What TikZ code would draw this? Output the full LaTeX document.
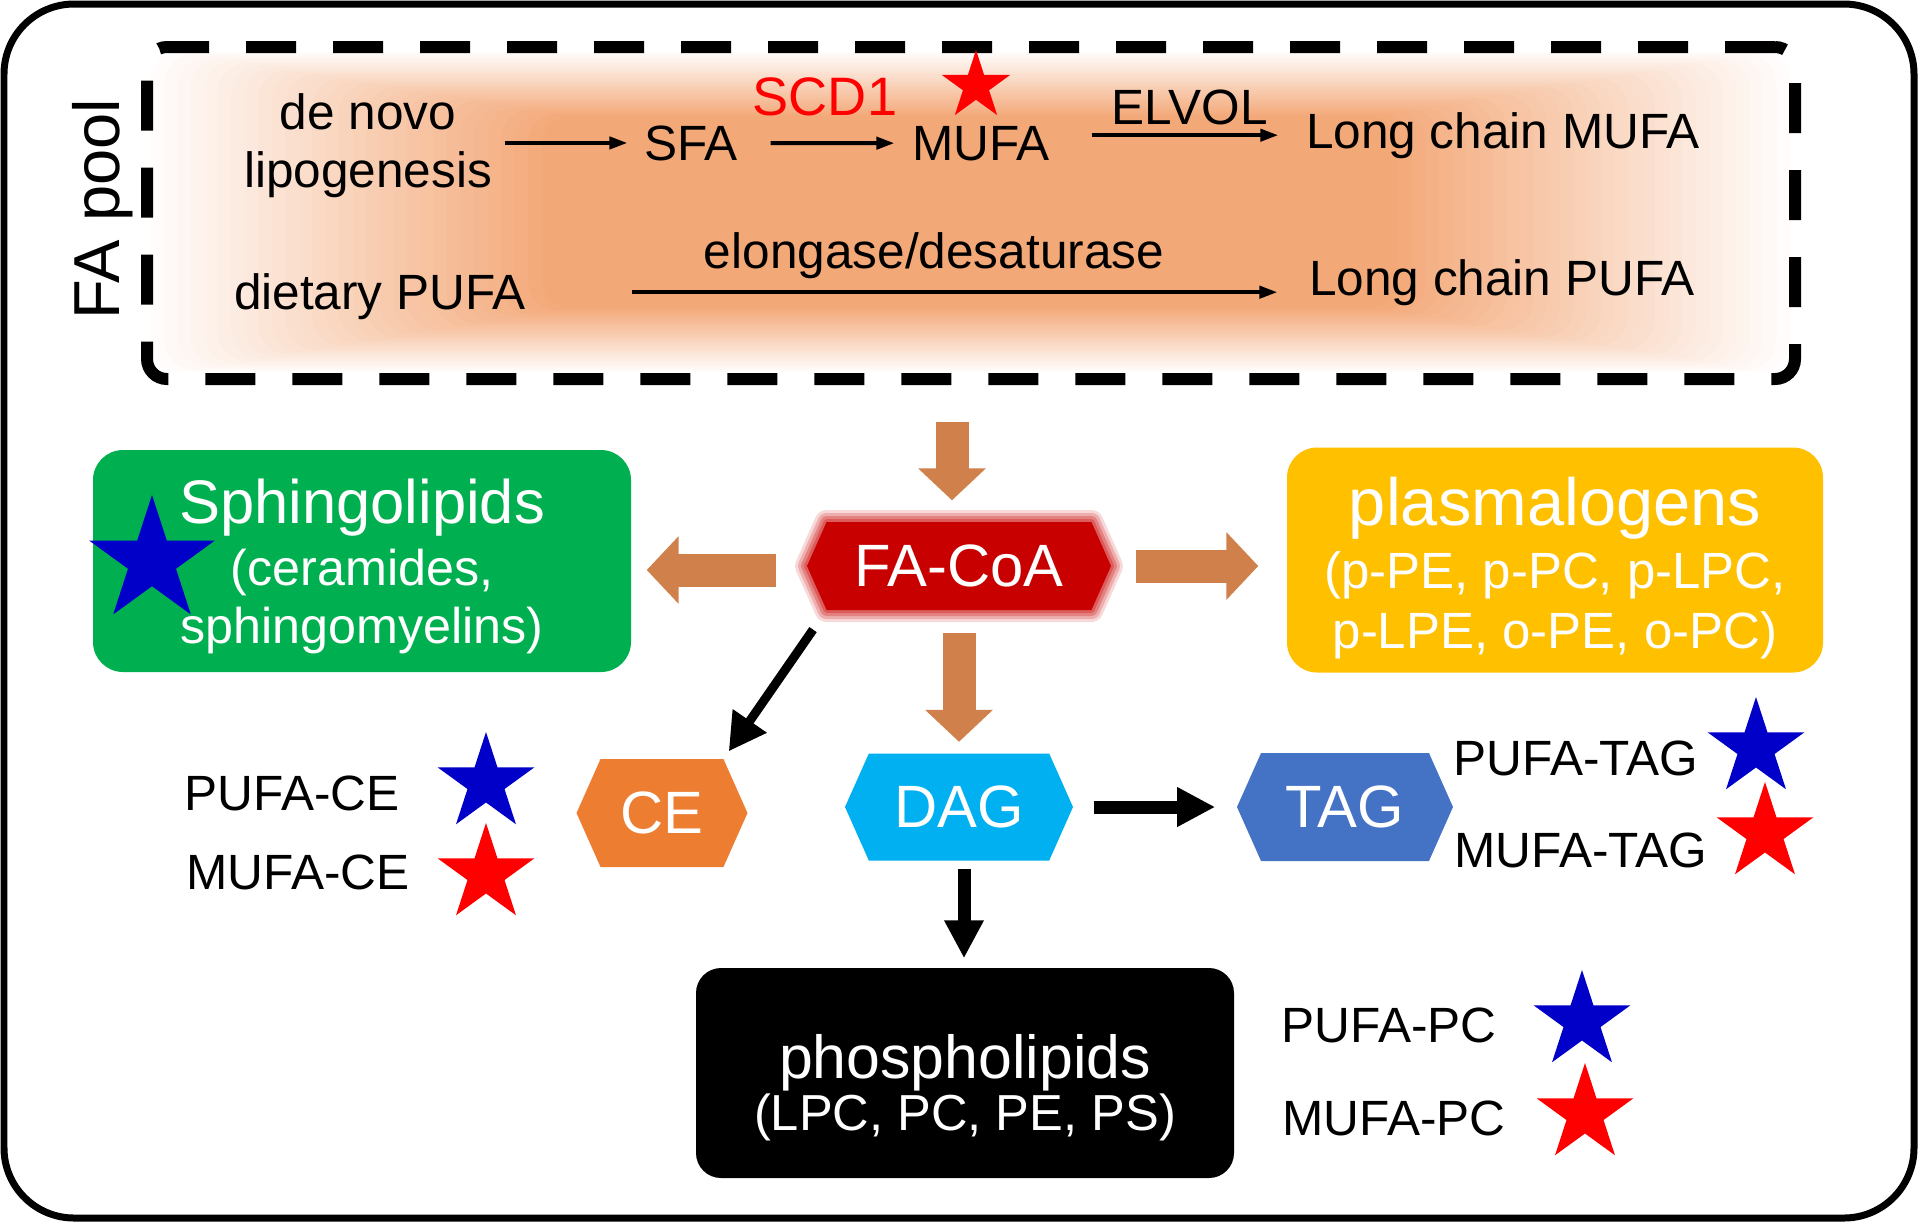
\documentclass[tikz,border=0pt]{standalone}
\usepackage{fontspec}
\setmainfont{Liberation Sans}
\usepackage{tikz}
\usetikzlibrary{shapes.symbols,shapes.geometric,arrows.meta,calc}
\definecolor{poolorange}{RGB}{243,168,120}
\definecolor{arroworange}{RGB}{208,128,74}
\definecolor{sphgreen}{RGB}{0,176,80}
\definecolor{plasgold}{RGB}{255,192,0}
\definecolor{facoared}{RGB}{200,0,0}
\definecolor{ceorange}{RGB}{237,125,49}
\definecolor{dagcyan}{RGB}{0,176,240}
\definecolor{tagblue}{RGB}{68,114,196}
\definecolor{starblue}{RGB}{0,0,200}
\definecolor{starred}{RGB}{255,0,0}

\begin{document}
\begin{tikzpicture}
[   x=0.1mm, y=-0.1mm,
    txt/.style={inner sep=0pt, font=\fontsize{14.1pt}{16.5pt}\selectfont},
    hexnode/.style={signal, signal to=east and west, signal pointer angle=132,
        fill=#1, inner sep=0pt, text=white, font=\fontsize{17pt}{20pt}\selectfont},
    soft edge/.style={preaction={draw=#1, draw opacity=.15, line width=2.4mm, line join=round},
        preaction={draw=#1, draw opacity=.2, line width=1.8mm, line join=round},
        preaction={draw=#1, draw opacity=.25, line width=1.2mm, line join=round},
        preaction={draw=#1, draw opacity=.3, line width=0.6mm, line join=round}},
    boxnode/.style={rectangle, rounded corners=3mm, fill=#1, inner sep=0pt, text=white, align=center},
    starnode/.style={star, star points=5, star point ratio=2.618, fill=#1, inner sep=0pt, minimum size=10.2mm},
]
\tikzset{thin arrow/.style={draw, line width=0.4mm, -{Triangle[length=1.8mm,width=1.2mm]}},
    fat arrow/.style={draw=arroworange, line width=3.3mm, -{Triangle[length=3.2mm,width=6.6mm]}},
    black arrow/.style={draw, line width=1.3mm, -{Triangle[length=3.8mm,width=3.7mm]}}}
\useasboundingbox (0,0) rectangle (1920,1222);
\draw[line width=0.7mm, rounded corners=7mm] (4,4) rectangle (1914,1218);

% FA pool: soft orange background, then the dashed frame
\foreach \k in {0,...,29}
{
	\pgfmathsetmacro\op{1/(30-\k)}
	\fill[poolorange, fill opacity=\op, rounded corners=3mm] (150+13.5*\k,52+2.2*\k) rectangle (1790-13.5*\k,372-2.2*\k);
}
\node[draw, line width=1.2mm, dash pattern=on 5mm off 3.7mm, rounded corners=2mm, inner sep=0pt,
      minimum width=164.8mm, minimum height=33.2mm] (pool) at (971,213) {};
\node[txt, font=\fontsize{18.5pt}{20pt}\selectfont, rotate=90, anchor=base] (fapool) at (119,209) {FA pool};

\node[txt, align=center] (denovo) at (368,146) {de novo\\lipogenesis};
\node[txt, anchor=base] (sfa) at (691,160) {SFA};
\node[txt, anchor=base] (mufa) at (981,160) {MUFA};
\node[txt, anchor=base] (lcmufa) at (1503,148) {Long chain MUFA};
\node[txt, anchor=base] (dietary) at (380,309) {dietary PUFA};
\node[txt, anchor=base] (lcpufa) at (1502,295) {Long chain PUFA};
\node[starnode=starred, minimum size=7.2mm] (scdstar) at (976,86) {};

\path[thin arrow, shorten <=1.2mm, shorten >=1.6mm] (denovo.east |- sfa.west) -- (sfa.west);
\path[thin arrow, shorten <=3.2mm, shorten >=1.7mm] (sfa.east) -- node[txt, above=2.5mm, text=starred, font=\fontsize{15.4pt}{18pt}\selectfont] (scd) {SCD1} (mufa.west);
\path[thin arrow, shorten <=4.1mm, shorten >=2.7mm] (mufa.east |- lcmufa.west) -- node[txt, above=0.8mm, pos=.546] (elvol) {ELVOL} (lcmufa.west);
\path[thin arrow, shorten <=10.5mm, shorten >=3.1mm] ([yshift=0.4mm]dietary.east) -- node[txt, above=1.1mm, pos=.521] (elong) {elongase/desaturase} ([yshift=0.4mm]dietary.east -| lcpufa.west);

% lipid classes
\node[hexnode=facoared, soft edge=facoared, minimum width=30.4mm, minimum height=8.8mm] (facoa) at (959,566) {FA-CoA};
\node[boxnode=sphgreen, minimum width=53.8mm, minimum height=22.2mm,
      font=\fontsize{14.3pt}{16.5pt}\selectfont] (sphingo) at (362,561)
      {{\fontsize{17.5pt}{20pt}\selectfont\rule{0pt}{5.45mm}Sphingolipids}\\[0.4mm](ceramides,\\sphingomyelins)};
\node[boxnode=plasgold, minimum width=53.6mm, minimum height=22.5mm,
      font=\fontsize{14.5pt}{17.1pt}\selectfont] (plasma) at (1555,560)
      {{\fontsize{19pt}{22pt}\selectfont\rule{0pt}{6.5mm}plasmalogens}\\[0.3mm](p-PE, p-PC, p-LPC,\\p-LPE, o-PE, o-PC)};
\node[hexnode=ceorange, minimum width=17.1mm, minimum height=10.8mm] (ce) at (662,813) {CE};
\node[hexnode=dagcyan, minimum width=22.8mm, minimum height=10.7mm] (dag) at (959,807) {DAG};
\node[hexnode=tagblue, minimum width=21.6mm, minimum height=10.8mm] (tag) at (1345,807) {TAG};
\node[boxnode=black, rounded corners=2.5mm, minimum width=53.8mm, minimum height=21mm,
      font=\fontsize{14.4pt}{14.8pt}\selectfont] (phospho) at (965,1073)
      {{\fontsize{17.3pt}{20pt}\selectfont\rule{0pt}{7.25mm}phospholipids}\\(LPC, PC, PE, PS)};
\node[starnode=starblue, minimum size=13.2mm] (sphstar) at (152,561) {};

\path[fat arrow, shorten <=3.7mm, shorten >=2.1mm] ([xshift=-0.7mm]pool.south -| facoa.north) -- ([xshift=-0.7mm]facoa.north);
\path[fat arrow, shorten <=3mm, shorten >=1.5mm] ([yshift=-0.4mm]facoa.west) -- ([yshift=-0.4mm]facoa.west -| sphingo.east);
\path[fat arrow, shorten <=2.4mm, shorten >=2.8mm] (facoa.east) -- (facoa.east -| plasma.west);
\path[fat arrow, shorten <=2.2mm, shorten >=1.1mm] (facoa.south) -- (dag.north);
\path[draw, line width=0.9mm, -{Triangle[length=3.7mm,width=3.9mm]}, shorten <=2.3mm, shorten >=0.85mm] (facoa.south west) -- (ce.north east);
\path[black arrow, shorten <=2mm, shorten >=2.1mm] (dag.east) -- (tag.west);
\path[black arrow, shorten <=0.75mm, shorten >=0.9mm] ([xshift=0.5mm]dag.south) -- ([xshift=0.5mm]dag.south |- phospho.north);

% PUFA / MUFA species
\node[txt, anchor=base west] (pufa-ce) at (184,810) {PUFA-CE};
\node[txt, anchor=base west] (mufa-ce) at (186,889) {MUFA-CE};
\node[starnode=starblue] (pufa-ce-star) at (486,783) {};
\node[starnode=starred] (mufa-ce-star) at (486,874) {};
\node[txt, anchor=base west] (pufa-tag) at (1453,775) {PUFA-TAG};
\node[txt, anchor=base west] (mufa-tag) at (1454,867) {MUFA-TAG};
\node[starnode=starblue] (pufa-tag-star) at (1756,748) {};
\node[starnode=starred] (mufa-tag-star) at (1765,833) {};
\node[txt, anchor=base west] (pufa-pc) at (1281,1042) {PUFA-PC};
\node[txt, anchor=base west] (mufa-pc) at (1282,1135) {MUFA-PC};
\node[starnode=starblue] (pufa-pc-star) at (1582,1021) {};
\node[starnode=starred] (mufa-pc-star) at (1585,1114) {};
\end{tikzpicture}
\end{document}
